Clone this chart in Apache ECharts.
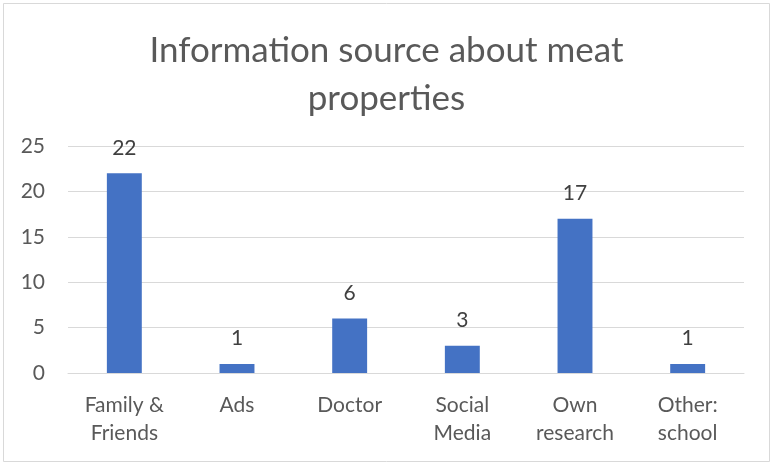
<!DOCTYPE html>
<html>
<head>
<meta charset="utf-8">
<script src="https://cdn.jsdelivr.net/npm/echarts@6/dist/echarts.min.js"></script>
<style>
  html, body { margin: 0; padding: 0; background: #fff; }
  #chart { width: 773px; height: 465px; }
</style>
</head>
<body>
<div id="chart"></div>
<script>
// Where respondents learn about meat properties
const categories = ['Family &\nFriends', 'Ads', 'Doctor', 'Social\nMedia', 'Own\nresearch', 'Other:\nschool'];
const counts = [22, 1, 6, 3, 17, 1];
const yTicks = { min: 0, max: 25, interval: 5 };

const FONT = 'Lato, "Open Sans", sans-serif';
const chart = echarts.init(document.getElementById('chart'), null, { renderer: 'canvas' });

chart.setOption({
  backgroundColor: '#ffffff',
  animation: false,
  title: {
    text: 'Information source about meat\nproperties',
    left: 'center',
    top: 22,
    textStyle: {
      fontFamily: FONT,
      fontSize: 35,
      fontWeight: 'normal',
      color: '#595959',
      lineHeight: 48
    }
  },
  graphic: [{
    type: 'rect',
    shape: { x: 3.5, y: 3.5, width: 766, height: 458 },
    style: { fill: 'none', stroke: '#d9d9d9', lineWidth: 1 },
    silent: true
  }],
  grid: { left: 68, right: 29, top: 146, bottom: 92, containLabel: false },
  xAxis: {
    type: 'category',
    data: categories,
    axisTick: { show: false },
    axisLine: { lineStyle: { color: '#d9d9d9', width: 1 } },
    axisLabel: {
      fontFamily: FONT,
      fontSize: 21,
      color: '#595959',
      lineHeight: 28,
      margin: 18,
      interval: 0
    }
  },
  yAxis: {
    type: 'value',
    min: yTicks.min,
    max: yTicks.max,
    interval: yTicks.interval,
    axisLine: { show: false },
    axisTick: { show: false },
    splitLine: { lineStyle: { color: '#d9d9d9', width: 1 } },
    axisLabel: {
      fontFamily: FONT,
      fontSize: 21,
      color: '#595959',
      margin: 23
    }
  },
  series: [{
    type: 'bar',
    data: counts,
    barWidth: '31%',
    itemStyle: { color: '#4472c4' },
    label: {
      show: true,
      position: 'top',
      distance: 15,
      fontFamily: FONT,
      fontSize: 21,
      color: '#404040'
    }
  }]
});
</script>
</body>
</html>
